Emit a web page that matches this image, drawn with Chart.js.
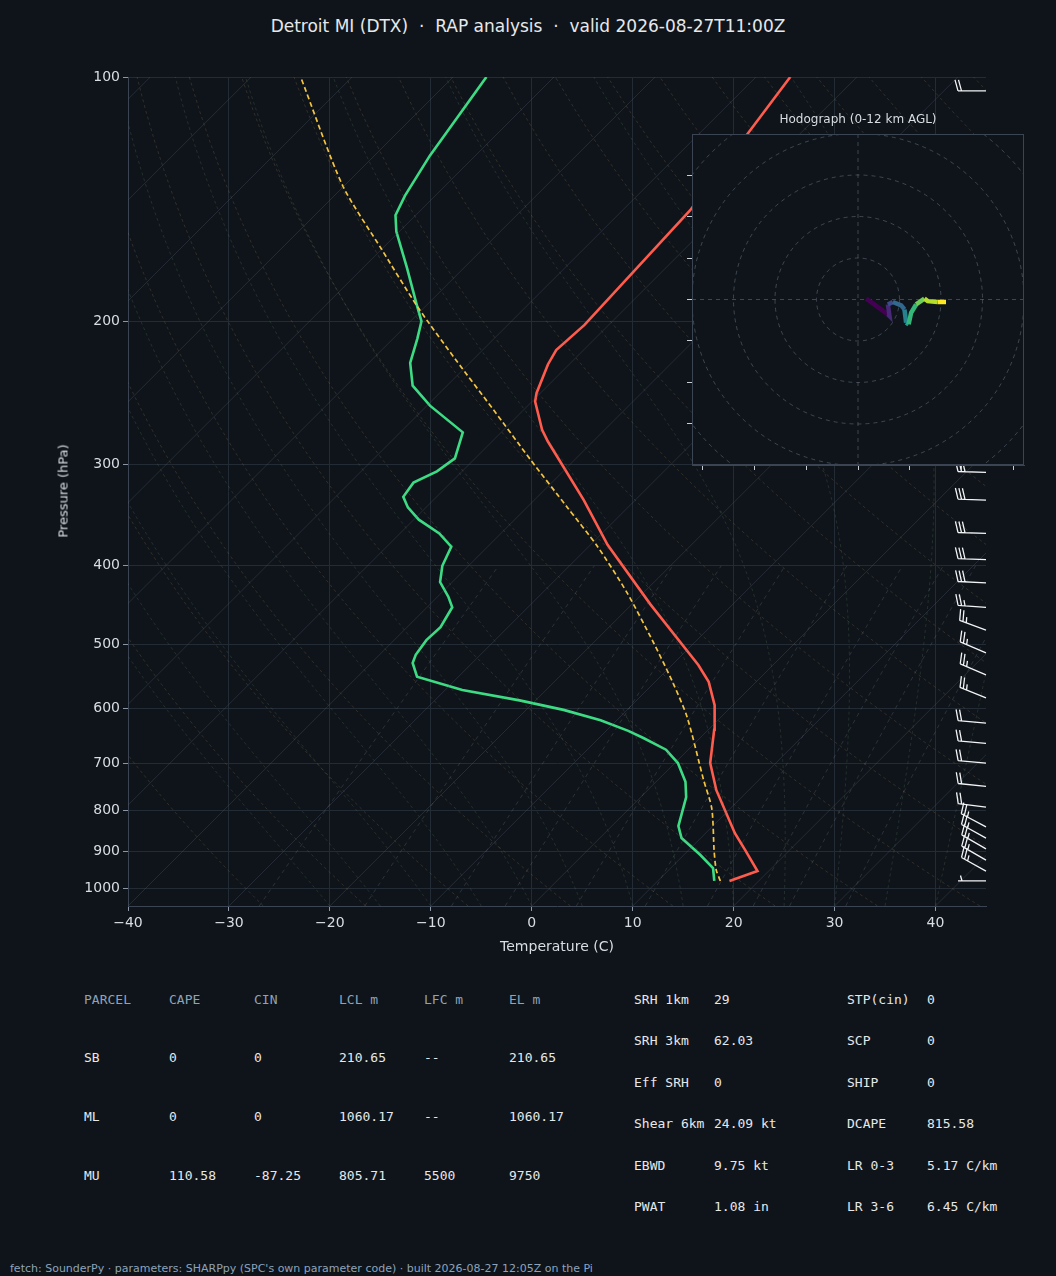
<!DOCTYPE html>
<html><head><meta charset="utf-8">
<script src="https://cdn.jsdelivr.net/npm/chart.js@4/dist/chart.umd.min.js"></script>
<style>
body{margin:0;background:#0f141a;width:1056px;height:1276px;overflow:hidden;font-family:"DejaVu Sans",sans-serif;color:#e2e6ea;position:relative}
.t{position:absolute;white-space:pre}
.m{font-family:"DejaVu Sans Mono",monospace;font-size:13px;color:#e6e8ea}
.h{color:#8ea3b9}
</style></head><body>
<div class="t" style="left:0;width:1056px;text-align:center;top:16px;font-size:17px;color:#e6e8ea">Detroit MI (DTX)  ·  RAP analysis  ·  valid 2026-08-27T11:00Z</div>
<canvas id="skew" style="position:absolute;left:0;top:0" width="1056" height="960"></canvas>
<div class="t" style="left:63px;top:491px;font-size:13px;color:#d8dde3;transform:translate(-50%,-50%) rotate(-90deg)">Pressure (hPa)</div>
<canvas id="hodo" style="position:absolute;top:110px;left:680px" width="360" height="370"></canvas>
<div class="t" style="left:692px;width:332px;text-align:center;top:112px;font-size:12px;color:#d8dde3">Hodograph (0-12 km AGL)</div>
<div id="tables"></div>
<div class="t" style="left:10px;top:1262px;font-size:11px;color:#8ea3b9">fetch: SounderPy · parameters: SHARPpy (SPC's own parameter code) · built 2026-08-27 12:05Z on the Pi</div>
<script>
// ---- data ----
const P_TICKS=[100,200,300,400,500,600,700,800,900,1000];
const T_TICKS=[-40,-30,-20,-10,0,10,20,30,40];
const TEMP_P=[978,951,896,854,756,700,637,594,556,530,446,377,332,281,272,251,245,226,217,202,146,100];
const TEMP_T=[17.1,18.9,15.6,12.9,6.8,3.5,0.6,-1.8,-4.7,-7.4,-18.2,-28.3,-35.1,-44.5,-46.2,-49.7,-50.4,-52.1,-52.7,-52.4,-53.3,-56.6];
const DEW_P=[978,943,908,866,837,771,738,700,674,652,639,620,602,586,569,548,527,515,494,476,450,437,419,400,379,365,351,339,329,316,306,295,274,254,240,225,210,200,190,172,155,148,140,125,100];
const DEW_T=[15.6,14.2,11.6,8.1,6.6,4.5,2.9,0.3,-2.2,-5.6,-7.8,-11.6,-16.3,-21.6,-28.3,-34.1,-35.9,-36.4,-36.8,-36.7,-37.5,-38.9,-41.2,-42.6,-43.6,-46.1,-49.5,-51.8,-53.3,-53.7,-52.5,-52.0,-53.8,-59.7,-63.4,-65.9,-67.6,-68.9,-71.2,-75.6,-80.3,-82.0,-83.0,-84.5,-86.7];
const PARCEL_P=[978,948,898,797,734,615,558,498,432,379,339,296,257,223,192,163,136,100];
const PARCEL_T=[16.2,14.7,12.6,8.2,4.5,-3.3,-8.1,-14.0,-21.6,-29.1,-36.0,-44.4,-53.0,-61.7,-70.7,-80.0,-90.2,-105.1];
const BARB_P=[104,307,332,365,393,420,450,480,512,545,582,625,662,700,748,793,839,866,893,922,951,978];
const BARB_DIR=[270,272,272,272,272,273,274,290,293,293,292,275,275,275,276,277,298,299,300,300,299,270];
const BARB_SPD=[20,30,30,30,30,30,25,25,25,25,25,20,20,20,20,20,25,25,25,25,25,5];
const HODO_U=[2,7.2,7.6,7.2,8.4,10.4,11.2,11.6,12.2,12.8,14,16,16.8,19.2,21.2];
const HODO_V=[0.2,-3.6,-4,-1.2,-0.6,-1.4,-2.4,-5.6,-6,-3.2,-1.2,0.2,-0.4,-0.6,-0.6];
const RINGS=[10,20,30,40,50];

const SKEW=80.5, PBOT=1050;
const sx=(T,p)=>T+SKEW*Math.log10(PBOT/p);
const prof=(P,T)=>P.map((p,i)=>({x:sx(T[i],p),y:p}));

// background reference lines (thermodynamic diagram furniture)
const bg=[];
const plevs=[];for(let p=1050;p>=100;p-=10)plevs.push(p);
for(let T=-130;T<=50;T+=10){bg.push({data:[{x:sx(T,1050),y:1050},{x:sx(T,100),y:100}],borderColor:'rgba(90,100,115,0.3)',borderWidth:1});}
for(let th=-30;th<=200;th+=10){bg.push({data:plevs.map(p=>({x:sx((th+273.15)*Math.pow(p/1000,0.2857)-273.15,p),y:p})),borderColor:'rgba(150,125,85,0.26)',borderWidth:1,borderDash:[3,3]});}
function es(T){return 6.112*Math.exp(17.67*T/(T+243.5));}
for(let T0=-20;T0<=40;T0+=5){let T=T0+273.15;const pts=[];for(let p=1050;p>=100;p-=5){pts.push({x:sx(T-273.15,p),y:p});const rs=0.622*es(T-273.15)/(p-es(T-273.15));const dTdp=(287*T+2.5e6*rs)/(1004+2.5e6*2.5e6*rs*0.622/(287*T*T))/p;T-=dTdp*5;}
bg.push({data:pts,borderColor:'rgba(95,130,100,0.25)',borderWidth:1,borderDash:[3,3]});}
for(const w of [0.4,1,2,3,5,8,12,16,20,28]){const pts=[];for(let p=1050;p>=400;p-=25){const e=p*w/(622+w);const l=Math.log(e/6.112);pts.push({x:sx(243.5*l/(17.67-l),p),y:p});}bg.push({data:pts,borderColor:'rgba(110,120,130,0.3)',borderWidth:1,borderDash:[4,4]});}

const barbPlugin={id:'barbs',afterDatasetsDraw(c){const ctx=c.ctx,ys=c.scales.y,x0=c.chartArea.right;ctx.save();ctx.strokeStyle='#f2f4f6';ctx.lineWidth=1.3;
BARB_P.forEach((p,i)=>{const y0=ys.getPixelForValue(p);const d=BARB_DIR[i]*Math.PI/180;const vx=Math.sin(d),vy=-Math.cos(d);const L=28;
const tx=x0+vx*L,ty=y0+vy*L;ctx.beginPath();ctx.moveTo(x0,y0);ctx.lineTo(tx,ty);
let s=BARB_SPD[i],pos=0;const fx=-vy,fy=vx;
const full=Math.floor(s/10),half=(s%10)>=5?1:0;
for(let k=0;k<full;k++){const bx=tx-vx*pos,by=ty-vy*pos;ctx.moveTo(bx,by);ctx.lineTo(bx+fx*11+vx*3,by+fy*11+vy*3);pos+=3.5;}
if(half){if(full===0)pos=4;const bx=tx-vx*pos,by=ty-vy*pos;ctx.moveTo(bx,by);ctx.lineTo(bx+fx*5.5+vx*1.5,by+fy*5.5+vy*1.5);}
ctx.stroke();});ctx.restore();}};

const tickFont={family:'DejaVu Sans',size:14};
new Chart(document.getElementById('skew'),{type:'scatter',
data:{datasets:[...bg.map(d=>Object.assign({showLine:true,pointRadius:0,fill:false},d)),
{data:prof(PARCEL_P,PARCEL_T),showLine:true,pointRadius:0,borderColor:'#f5c542',borderWidth:1.7,borderDash:[5,3],tension:0.25},
{data:prof(TEMP_P,TEMP_T),showLine:true,pointRadius:0,borderColor:'#ff5c4d',borderWidth:2.6},
{data:prof(DEW_P,DEW_T),showLine:true,pointRadius:0,borderColor:'#3ddc84',borderWidth:2.6}]},
options:{responsive:false,animation:false,events:[],layout:{padding:{left:0,top:77,right:70,bottom:0}},
plugins:{legend:{display:false},tooltip:{enabled:false}},
scales:{x:{type:'linear',min:-40,max:45,afterFit:s=>{s.height=54},afterBuildTicks:s=>{s.ticks=T_TICKS.map(v=>({value:v}))},
ticks:{color:'#d8dde3',font:tickFont,padding:4,callback:v=>String(v).replace('-','\u2212')},grid:{color:'#232b34',tickColor:'#8a96a3',tickLength:5},border:{color:'#3a4452'},
title:{display:true,text:'Temperature (C)',color:'#d8dde3',font:{family:'DejaVu Sans',size:14},padding:{top:0}}},
y:{type:'logarithmic',reverse:true,min:100,max:1050,afterFit:s=>{s.width=128},afterBuildTicks:s=>{s.ticks=P_TICKS.map(v=>({value:v}))},
ticks:{color:'#d8dde3',font:tickFont,callback:v=>String(v)},grid:{color:'#232b34',tickColor:'#8a96a3',tickLength:5},border:{color:'#3a4452'}}}},
plugins:[barbPlugin]});

// hodograph
const VIR=['#440154','#482878','#3e4a89','#31688e','#26828e','#1f9e89','#35b779','#6ece58','#b5de2b','#fde725'];
const hodoBg={id:'hbg',beforeDraw(c){const a=c.chartArea,ctx=c.ctx;ctx.save();ctx.fillStyle='#0f141a';ctx.fillRect(a.left,a.top,a.width,a.height);ctx.restore();},
beforeDatasetsDraw(c){const a=c.chartArea,ctx=c.ctx,xs=c.scales.x,ys=c.scales.y;ctx.save();ctx.beginPath();ctx.rect(a.left,a.top,a.width,a.height);ctx.clip();
ctx.strokeStyle='rgba(120,130,145,0.45)';ctx.lineWidth=1;ctx.setLineDash([4,4]);const cx=xs.getPixelForValue(0),cy=ys.getPixelForValue(0);
RINGS.forEach(r=>{const rp=Math.abs(xs.getPixelForValue(r)-cx);ctx.beginPath();ctx.arc(cx,cy,rp,0,2*Math.PI);ctx.stroke();});
ctx.beginPath();ctx.moveTo(cx,a.top);ctx.lineTo(cx,a.bottom);ctx.moveTo(a.left,cy);ctx.lineTo(a.right,cy);ctx.stroke();ctx.restore();},
afterDraw(c){const a=c.chartArea,ctx=c.ctx;ctx.save();ctx.strokeStyle='#3a4452';ctx.lineWidth=1;ctx.strokeRect(a.left+0.5,a.top+0.5,a.width-1,a.height-1);ctx.restore();}};
const n=HODO_U.length;
new Chart(document.getElementById('hodo'),{type:'scatter',
data:{datasets:[{data:HODO_U.map((u,i)=>({x:u,y:HODO_V[i]})),showLine:true,pointRadius:0,borderWidth:4.5,borderColor:VIR[0],
segment:{borderColor:ctx=>VIR[Math.min(VIR.length-1,Math.round(ctx.p0DataIndex/(n-2)*(VIR.length-1)))]}}]},
options:{responsive:false,animation:false,events:[],layout:{padding:{left:0,top:24,right:16,bottom:0}},
plugins:{legend:{display:false},tooltip:{enabled:false}},
scales:{x:{type:'linear',min:-40,max:40,afterFit:s=>{s.height=15},afterBuildTicks:s=>{s.ticks=[-37.5,-25,-12.5,0,12.5,25,37.5].map(v=>({value:v}))},ticks:{display:false},grid:{display:true,drawOnChartArea:false,tickLength:5,tickColor:'#c8ced6'},border:{color:'#3a4452'}},
y:{type:'linear',min:-40,max:40,afterFit:s=>{s.width=12},afterBuildTicks:s=>{s.ticks=[-30,-20,-10,0,10,20,30].map(v=>({value:v}))},ticks:{display:false},grid:{display:true,drawOnChartArea:false,tickLength:5,tickColor:'#c8ced6'},border:{color:'#3a4452'}}}},
plugins:[hodoBg]});

// tables
const PARCEL_HDR=['PARCEL','CAPE','CIN','LCL m','LFC m','EL m'];
const PARCEL_ROWS=[['SB','0','0','210.65','--','210.65'],['ML','0','0','1060.17','--','1060.17'],['MU','110.58','-87.25','805.71','5500','9750']];
const IDX_L=[['SRH 1km','29'],['SRH 3km','62.03'],['Eff SRH','0'],['Shear 6km','24.09 kt'],['EBWD','9.75 kt'],['PWAT','1.08 in']];
const IDX_R=[['STP(cin)','0'],['SCP','0'],['SHIP','0'],['DCAPE','815.58'],['LR 0-3','5.17 C/km'],['LR 3-6','6.45 C/km']];
let h='';const cx=[84,169,254,339,424,509],ry=[992,1050,1109,1168];
PARCEL_HDR.forEach((t,j)=>h+=`<div class="t m h" style="left:${cx[j]}px;top:${ry[0]}px">${t}</div>`);
PARCEL_ROWS.forEach((r,i)=>r.forEach((t,j)=>h+=`<div class="t m" style="left:${cx[j]}px;top:${ry[i+1]}px">${t}</div>`));
const iy=[992,1033,1075,1116,1158,1199];
IDX_L.forEach((r,i)=>{h+=`<div class="t m" style="left:634px;top:${iy[i]}px">${r[0]}</div><div class="t m" style="left:714px;top:${iy[i]}px">${r[1]}</div>`;});
IDX_R.forEach((r,i)=>{h+=`<div class="t m" style="left:847px;top:${iy[i]}px">${r[0]}</div><div class="t m" style="left:927px;top:${iy[i]}px">${r[1]}</div>`;});
document.getElementById('tables').innerHTML=h;
</script></body></html>
